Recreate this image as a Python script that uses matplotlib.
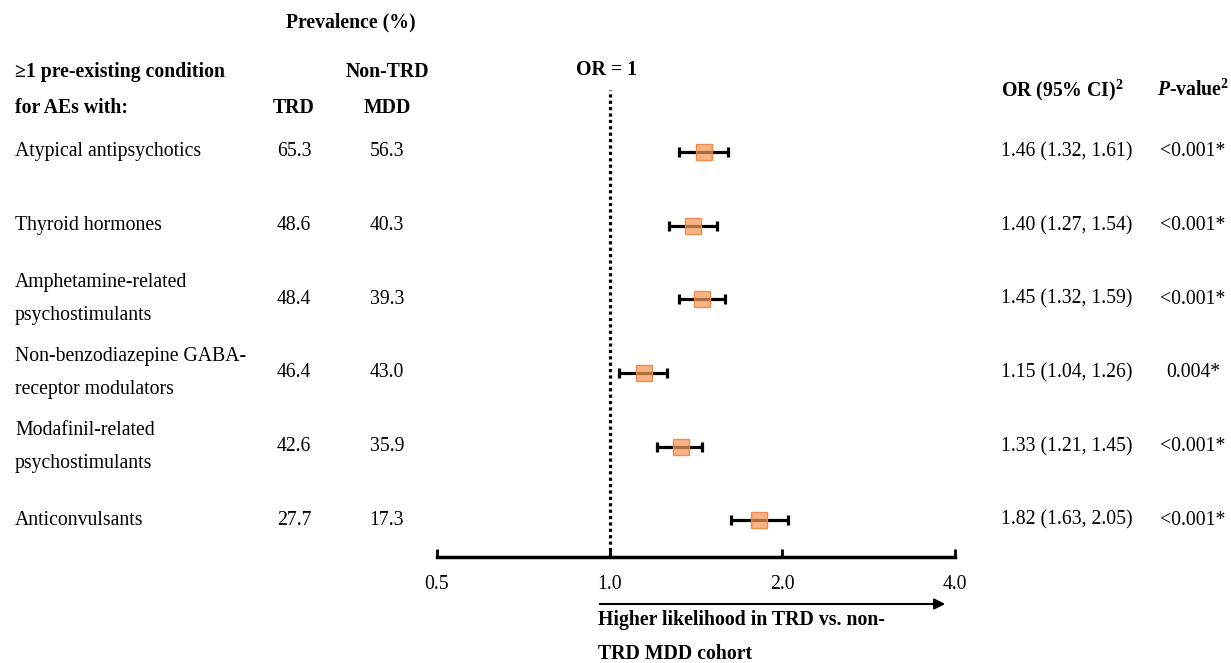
import matplotlib
matplotlib.use("Agg")
import matplotlib.pyplot as plt
import matplotlib.transforms as mtransforms
from matplotlib.ticker import FixedLocator, FixedFormatter, NullLocator

plt.rcParams['font.family'] = ['Liberation Serif', 'DejaVu Serif']
plt.rcParams['mathtext.fontset'] = 'custom'
plt.rcParams['mathtext.rm'] = 'Liberation Serif:bold'
plt.rcParams['mathtext.it'] = 'Liberation Serif:italic:bold'
plt.rcParams['mathtext.bf'] = 'Liberation Serif:bold'

# data
conditions = ["Atypical antipsychotics",
              "Thyroid hormones",
              "Amphetamine-related\npsychostimulants",
              "Non-benzodiazepine GABA-\nreceptor modulators",
              "Modafinil-related\npsychostimulants",
              "Anticonvulsants"]
prev_trd = [65.3, 48.6, 48.4, 46.4, 42.6, 27.7]
prev_non_trd = [56.3, 40.3, 39.3, 43.0, 35.9, 17.3]
odds_ratio = [1.46, 1.40, 1.45, 1.15, 1.33, 1.82]
ci_low = [1.32, 1.27, 1.32, 1.04, 1.21, 1.63]
ci_high = [1.61, 1.54, 1.59, 1.26, 1.45, 2.05]
p_values = ["<0.001*", "<0.001*", "<0.001*", "0.004*", "<0.001*", "<0.001*"]
x_ticks = [0.5, 1.0, 2.0, 4.0]
x_tick_labels = ["0.5", "1.0", "2.0", "4.0"]

W, H = 1231, 663
FS = 14.2

fig = plt.figure(figsize=(W / 100, H / 100), dpi=100)
ax = fig.add_axes([437 / W, 1 - 557 / H, 518 / W, (557 - 90) / H])

rows = list(range(len(conditions)))
xerr = [[o - l for o, l in zip(odds_ratio, ci_low)],
        [h - o for o, h in zip(odds_ratio, ci_high)]]

ax.axvline(1.0, color='black', ls=(0, (1, 1)), lw=2.3, zorder=1)
ax.errorbar(odds_ratio, rows, xerr=xerr, fmt='none', ecolor='black',
            elinewidth=2.3, capsize=3.8, capthick=2.3, zorder=2)
ax.plot(odds_ratio, rows, 's', ms=11, mfc=(0.957, 0.60, 0.34, 0.72),
        mec=(0.93, 0.52, 0.25, 0.9), mew=1.0, ls='none', zorder=3)

ax.set_xscale('log', base=2)
ax.set_xlim(0.5, 4.0)
ax.set_ylim(5.5, -0.84)
ax.xaxis.set_major_locator(FixedLocator(x_ticks))
ax.xaxis.set_major_formatter(FixedFormatter(x_tick_labels))
ax.xaxis.set_minor_locator(NullLocator())
ax.tick_params(axis='x', direction='in', length=6, width=2, pad=13, labelsize=FS)
ax.set_yticks([])
for s in ['left', 'right', 'top']:
    ax.spines[s].set_visible(False)
ax.spines['bottom'].set_linewidth(2.5)

# row text, x in figure pixels, y on the data rows
tr = mtransforms.blended_transform_factory(fig.transFigure, ax.transData)
for i, name in enumerate(conditions):
    ax.text(15 / W, i, name, transform=tr, ha='left', va='center', fontsize=FS,
            linespacing=2.0, clip_on=False)
    ax.text(294 / W, i, f"{prev_trd[i]:.1f}", transform=tr, ha='center', va='center',
            fontsize=FS, clip_on=False)
    ax.text(387 / W, i, f"{prev_non_trd[i]:.1f}", transform=tr, ha='center', va='center',
            fontsize=FS, clip_on=False)
    ax.text(1001 / W, i, f"{odds_ratio[i]:.2f} ({ci_low[i]:.2f}, {ci_high[i]:.2f})",
            transform=tr, ha='left', va='center', fontsize=FS, clip_on=False)
    ax.text(1193 / W, i, p_values[i], transform=tr, ha='center', va='center',
            fontsize=FS, clip_on=False)


def ftext(x, y, s, **kw):
    fig.text(x / W, 1 - y / H, s, fontsize=FS, va='center', **kw)


# headers
ftext(351, 22, "Prevalence (%)", ha='center', weight='bold')
ftext(15, 72, "\u22651 pre-existing condition", ha='left', weight='bold')
ftext(15, 108, "for AEs with:", ha='left', weight='bold')
ftext(387, 72, "Non-TRD", ha='center', weight='bold')
ftext(387, 108, "MDD", ha='center', weight='bold')
ftext(294, 108, "TRD", ha='center', weight='bold')
ftext(606, 70, "OR = 1", ha='center', weight='bold')
ftext(1001, 90, r"OR (95% CI)$^2$", ha='left', weight='bold')
ftext(1193, 90, r"$P$-value$^2$", ha='center', weight='bold')

# direction arrow and caption
fig.add_artist(matplotlib.patches.FancyArrowPatch(
    (597 / W, 1 - 604 / H), (948 / W, 1 - 604 / H), transform=fig.transFigure,
    arrowstyle='-|>', mutation_scale=16, lw=1.5, color='black'))
ftext(598, 620, "Higher likelihood in TRD vs. non-", ha='left', weight='bold')
ftext(598, 654, "TRD MDD cohort", ha='left', weight='bold')

fig.savefig("out.png", dpi=100)
